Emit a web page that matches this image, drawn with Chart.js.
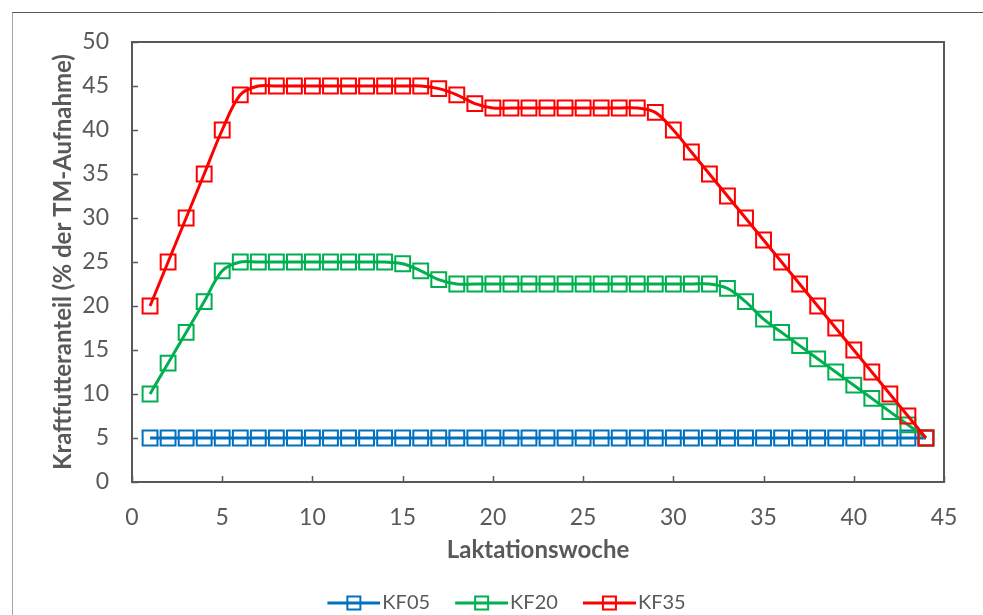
<!DOCTYPE html>
<html>
<head>
<meta charset="utf-8">
<script src="https://cdn.jsdelivr.net/npm/chart.js@4.4.1/dist/chart.umd.min.js"></script>
<style>
  html, body { margin: 0; padding: 0; background: #fff; }
  #wrap { position: relative; width: 983px; height: 615px; }
</style>
</head>
<body>
<div id="wrap"><canvas id="kfChart"></canvas></div>
<script>
// Kraftfutteranteil je Laktationswoche für die drei Strategien
const wochen = [1, 2, 3, 4, 5, 6, 7, 8, 9, 10, 11, 12, 13, 14, 15, 16, 17, 18, 19, 20, 21, 22,
    23, 24, 25, 26, 27, 28, 29, 30, 31, 32, 33, 34, 35, 36, 37, 38, 39, 40, 41, 42, 43, 44];

const kf05 = [5, 5, 5, 5, 5, 5, 5, 5, 5, 5, 5, 5, 5, 5, 5, 5, 5, 5, 5, 5, 5, 5,
    5, 5, 5, 5, 5, 5, 5, 5, 5, 5, 5, 5, 5, 5, 5, 5, 5, 5, 5, 5, 5, 5];

const kf20 = [10, 13.5, 17, 20.5, 24, 25, 25, 25, 25, 25, 25, 25, 25, 25, 24.8, 24, 23, 22.5, 22.5, 22.5, 22.5, 22.5,
    22.5, 22.5, 22.5, 22.5, 22.5, 22.5, 22.5, 22.5, 22.5, 22.5, 22, 20.5, 18.5, 17, 15.5, 14, 12.5, 11, 9.5, 8, 6.5, 5];

const kf35 = [20, 25, 30, 35, 40, 44, 45, 45, 45, 45, 45, 45, 45, 45, 45, 45, 44.7, 44, 43, 42.5, 42.5, 42.5,
    42.5, 42.5, 42.5, 42.5, 42.5, 42.5, 42, 40, 37.5, 35, 32.5, 30, 27.5, 25, 22.5, 20, 17.5, 15, 12.5, 10, 7.5, 5];

const serien = ['KF05', 'KF20', 'KF35'];
const farben = ['#0070C0', '#00B050', '#FF0000'];

const TEXT_GRAU = '#595959';
const FONT = 'Lato, "Open Sans", sans-serif';

// Legendensymbol: Linie mit offenem Quadrat
function legendIcon(color) {
    const c = document.createElement('canvas');
    c.width = 82;
    c.height = 18;
    const g = c.getContext('2d');
    g.strokeStyle = color;
    g.lineWidth = 3;
    g.beginPath();
    g.moveTo(29, 9);
    g.lineTo(82, 9);
    g.stroke();
    g.lineWidth = 2;
    g.strokeRect(49, 2.5, 13, 13);
    return c;
}
const icons = farben.map(legendIcon);

function punkte(werte) {
    return wochen.map((w, i) => ({ x: w, y: werte[i] }));
}

// Rahmen um das Diagramm, Plotrahmen und innenliegende Teilstriche
const rahmenPlugin = {
    id: 'rahmen',
    beforeDraw(chart) {
        const ctx = chart.ctx;
        ctx.save();
        ctx.lineWidth = 1;
        ctx.strokeStyle = '#a6a6a6';
        ctx.beginPath();
        ctx.moveTo(12.5, 615);
        ctx.lineTo(12.5, 12.5);
        ctx.stroke();
        ctx.strokeStyle = '#595959';
        ctx.beginPath();
        ctx.moveTo(12, 12.5);
        ctx.lineTo(983, 12.5);
        ctx.stroke();
        ctx.restore();
    },
    beforeDatasetsDraw(chart) {
        const { ctx, chartArea: a, scales } = chart;
        ctx.save();
        ctx.strokeStyle = '#595959';
        ctx.lineWidth = 2;
        ctx.strokeRect(a.left, a.top, a.right - a.left, a.bottom - a.top);
        ctx.lineWidth = 1.5;
        ctx.beginPath();
        scales.y.ticks.forEach(t => {
            const py = Math.round(scales.y.getPixelForValue(t.value)) + 0.5;
            ctx.moveTo(a.left, py);
            ctx.lineTo(a.left + 6, py);
        });
        scales.x.ticks.forEach(t => {
            const px = Math.round(scales.x.getPixelForValue(t.value)) + 0.5;
            ctx.moveTo(px, a.bottom);
            ctx.lineTo(px, a.bottom - 6);
        });
        ctx.stroke();
        ctx.restore();
    }
};

const datasets = [kf05, kf20, kf35].map((werte, i) => ({
    label: serien[i],
    data: punkte(werte),
    borderColor: farben[i],
    backgroundColor: farben[i],
    borderWidth: 3,
    tension: 0.35,
    pointStyle: 'rect',
    pointRadius: 10.5,
    pointHoverRadius: 10.5,
    pointBorderWidth: 2,
    pointBorderColor: farben[i],
    pointBackgroundColor: 'rgba(0,0,0,0)',
    order: 3 - i
}));

new Chart(document.getElementById('kfChart'), {
    type: 'line',
    data: { datasets },
    plugins: [rahmenPlugin],
    options: {
        responsive: true,
        maintainAspectRatio: false,
        animation: false,
        layout: { padding: { top: 42, right: 39, left: 48, bottom: -8 } },
        plugins: {
            legend: {
                display: true,
                position: 'bottom',
                labels: {
                    usePointStyle: true,
                    pointStyleWidth: 66,
                    padding: 4,
                    color: TEXT_GRAU,
                    font: { family: FONT, size: 20 },
                    sort: (a, b) => a.datasetIndex - b.datasetIndex,
                    generateLabels(chart) {
                        const items = Chart.defaults.plugins.legend.labels.generateLabels(chart);
                        items.forEach(it => { it.pointStyle = icons[it.datasetIndex]; });
                        return items;
                    }
                }
            },
            tooltip: { enabled: true }
        },
        scales: {
            x: {
                type: 'linear',
                min: 0,
                max: 45,
                grid: { display: false, drawTicks: false },
                border: { display: false },
                ticks: {
                    stepSize: 5,
                    padding: 22,
                    color: TEXT_GRAU,
                    font: { family: FONT, size: 23 }
                },
                title: {
                    display: true,
                    text: 'Laktationswoche',
                    color: TEXT_GRAU,
                    font: { family: FONT, size: 24, weight: 'bold' },
                    padding: { top: 0, bottom: 24 }
                },
                afterFit(scale) { scale.height = 107; }
            },
            y: {
                min: 0,
                max: 50,
                grid: { display: false, drawTicks: false },
                border: { display: false },
                ticks: {
                    stepSize: 5,
                    padding: 23,
                    color: TEXT_GRAU,
                    font: { family: FONT, size: 23 }
                },
                title: {
                    display: true,
                    text: 'Kraftfutteranteil (% der TM-Aufnahme)',
                    color: TEXT_GRAU,
                    font: { family: FONT, size: 24, weight: 'bold' },
                    padding: { top: 1, bottom: 0 }
                },
                afterFit(scale) { scale.width = 84; }
            }
        }
    }
});
</script>
</body>
</html>
